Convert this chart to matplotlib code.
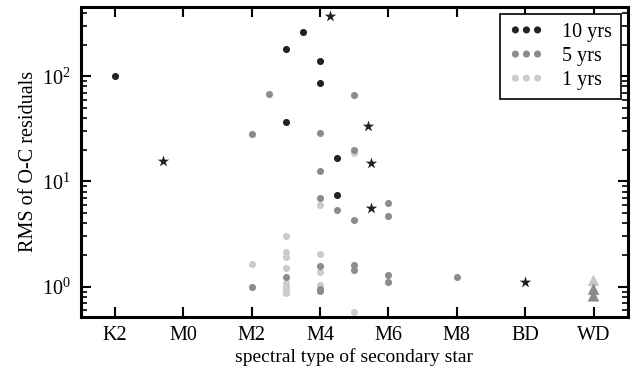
import numpy as np
import matplotlib
matplotlib.use('Agg')
import matplotlib.pyplot as plt

plt.rcParams['font.family'] = ['Liberation Serif', 'DejaVu Serif']
plt.rcParams['mathtext.fontset'] = 'stix'

# spectral type axis: K2=0, M0=2, ... M8=10, BD=12, WD=14
tick_pos = [0, 2, 4, 6, 8, 10, 12, 14]
tick_lab = ['K2', 'M0', 'M2', 'M4', 'M6', 'M8', 'BD', 'WD']

# 10 yrs
x10 = [0, 5.5, 5, 6, 6, 5, 6.5, 6.5]
y10 = [100, 265, 180, 139, 86, 36.7, 16.7, 7.36]
# 10 yrs, stars
x10s = [6.3, 1.4, 7.4, 7.5, 7.5, 12]
y10s = [375, 15.5, 34, 15, 5.57, 1.12]

# 5 yrs
x5 = [4.5, 7, 4, 6, 7, 6, 6, 6.5, 7, 8, 8, 5, 6, 6, 6, 7, 7, 8, 8, 4, 10]
y5 = [68, 67, 28, 28.8, 19.7, 12.7, 6.93, 5.4, 4.31, 6.2, 4.68, 1.23,
      1.56, 0.96, 0.92, 1.61, 1.43, 1.29, 1.12, 1.0, 1.25]

# 1 yrs
x1 = [7, 6, 5, 5, 5, 5, 5, 5, 5, 5, 6, 6, 6, 7, 4]
y1 = [18.5, 6.0, 3.0, 2.14, 1.90, 1.49, 1.08, 1.0, 0.94, 0.88, 2.03,
      1.38, 1.04, 0.58, 1.66]

# white dwarfs (triangles)
xwd = [14, 14, 14]
ywd = [1.15, 0.95, 0.82]
cwd = ['#c8c8c8', '#8a8a8a', '#8a8a8a']

c10, c5, c1 = '#222222', '#8c8c8c', '#cccccc'

fig = plt.figure(figsize=(6.39, 3.76), dpi=100)
ax = fig.add_axes([0.1263, 0.158, 0.856, 0.824])

ax.scatter(x1, y1, s=26, c=c1, lw=0, label='1 yrs', zorder=2)
ax.scatter(x5, y5, s=26, c=c5, lw=0, label='5 yrs', zorder=3)
ax.scatter(x10, y10, s=26, c=c10, lw=0, label='10 yrs', zorder=4)
ax.scatter(x10s, y10s, s=75, c=c10, marker='*', lw=0, zorder=4)
ax.scatter(xwd, ywd, s=70, c=cwd, marker='^', lw=0, zorder=3)

ax.set_yscale('log')
ax.set_xlim(-1, 15)
ax.set_ylim(0.52, 457)
ax.set_xticks(tick_pos)
ax.set_xticklabels(tick_lab)
ax.tick_params(axis='both', which='both', direction='in', top=True, right=True,
               labelsize=14.5)
ax.tick_params(which='major', length=7, width=1.5)
ax.tick_params(which='minor', length=4, width=1.2)
ax.tick_params(axis='x', pad=7)
ax.tick_params(axis='y', pad=7)
for sp in ax.spines.values():
    sp.set_linewidth(2.2)

ax.set_xlabel('spectral type of secondary star', fontsize=14, labelpad=2)
ax.set_ylabel('RMS of O-C residuals', fontsize=14.5, labelpad=3)

h, l = ax.get_legend_handles_labels()
leg = ax.legend(h[::-1], l[::-1], loc='upper right', scatterpoints=3,
                scatteryoffsets=[0.5], fontsize=14.5, fancybox=False,
                edgecolor='black', framealpha=1, borderpad=0.45,
                labelspacing=0.25, handlelength=1.7, handletextpad=0.9,
                borderaxespad=0.35)
leg.get_frame().set_linewidth(1.2)

plt.savefig('out.png', dpi=100)
